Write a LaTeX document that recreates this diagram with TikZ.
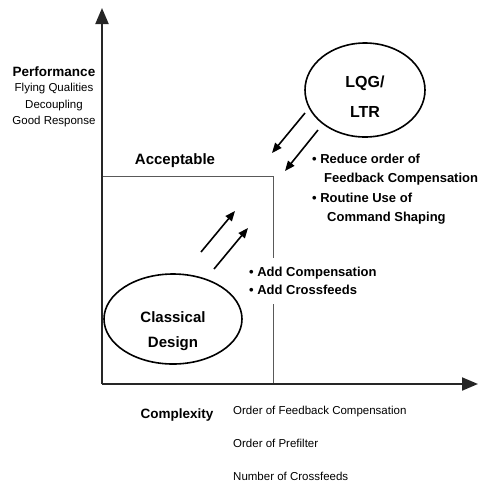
\documentclass[tikz,border=0pt]{standalone}
\usepackage{fontspec}
\setmainfont{Liberation Sans}
\usepackage{tikz}
\usetikzlibrary{arrows.meta,shapes.geometric}
\tikzset{
  axis/.style={line width=2pt, draw=black!85, -{Triangle[length=16pt,width=13pt]}},
  arr/.style={line width=1.6pt, -{Triangle[length=10pt,width=8pt]}},
  oval/.style={draw, ellipse, line width=1.6pt, inner sep=0pt},
  ovaltext/.style={font=\bfseries\fontsize{15}{25}\selectfont, align=center, inner sep=0pt},
  head/.style={font=\bfseries\fontsize{13.5}{15}\selectfont, inner sep=0pt},
  note/.style={font=\fontsize{11.5}{13}\selectfont, inner sep=0pt},
  bull/.style={font=\bfseries\fontsize{13}{15}\selectfont, inner sep=0pt, anchor=west}
}
\begin{document}
\begin{tikzpicture}[x=1pt, y=-1pt]
	\useasboundingbox (0,0) rectangle (487,483);
	% axes
	\coordinate (O) at (102,384);
	\coordinate (ytip) at (102,8);
	\coordinate (xtip) at (478,384);
	\draw[gray!70!black, line width=0.8pt] (O) rectangle (273,176);
	\draw[axis] (O) -- (ytip);
	\draw[axis] (O) -- (xtip);
	% vertical axis
	\node[head] (perf) at (54,72) {Performance};
	\node[note] (flying) at (54,89) {Flying Qualities};
	\node[note] (decoup) at (54,106) {Decoupling};
	\node[note] (resp) at (54,122) {Good Response};
	\node[head, font=\bfseries\fontsize{15}{16}\selectfont] (accept) at (175,161) {Acceptable};
	% horizontal axis
	\node[head] (complex) at (177,415) {Complexity};
	\node[note, anchor=west] (fbc) at (233,412) {Order of Feedback Compensation};
	\node[note, anchor=west] (prefilt) at (233,443) {Order of Prefilter};
	\node[note, anchor=west] (xfeeds) at (233,476) {Number of Crossfeeds};
	% designs
	\node[oval, minimum width=138pt, minimum height=90pt] (classical) at (173,319) {};
	\node[ovaltext] (classtxt) at ([yshift=-12pt]classical.center) {Classical\\Design};
	\node[oval, minimum width=120pt, minimum height=94pt] (lqg) at (365,90) {};
	\node[ovaltext, font=\bfseries\fontsize{16}{30}\selectfont] (lqgtxt) at ([yshift=-7pt]lqg.center) {LQG/\\LTR};
	% classical -> acceptable
	\node[bull, fill=white, inner xsep=2pt, inner ysep=9pt, align=left, font=\bfseries\fontsize{13}{18}\selectfont] (add) at (247,281) {\textbullet\ Add Compensation\\\textbullet\ Add Crossfeeds};
	\coordinate (up1a) at (201,252);
	\coordinate (up1b) at (235,211);
	\coordinate (up2a) at (214,269);
	\coordinate (up2b) at (248,228);
	\draw[arr] (up1a) -- (up1b);
	\draw[arr] (up2a) -- (up2b);
	% lqg -> acceptable
	\node[bull] (reduce) at (312,159) {\textbullet\ Reduce order of};
	\node[bull] (reduce2) at (324,179) {Feedback Compensation};
	\node[bull] (routine) at (312,198) {\textbullet\ Routine Use of};
	\node[bull] (routine2) at (327,218) {Command Shaping};
	\coordinate (dn1a) at (305,113);
	\coordinate (dn1b) at (272,153);
	\coordinate (dn2a) at (318,130);
	\coordinate (dn2b) at (285,171);
	\draw[arr] (dn1a) -- (dn1b);
	\draw[arr] (dn2a) -- (dn2b);
\end{tikzpicture}
\end{document}
